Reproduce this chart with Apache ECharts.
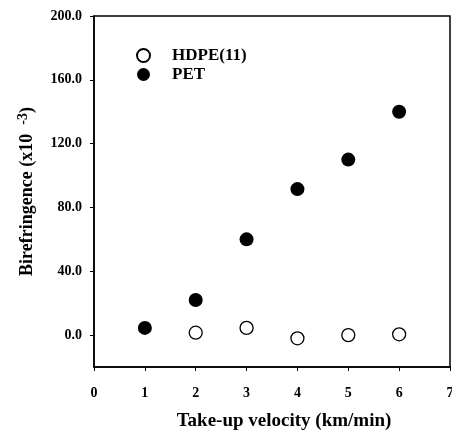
<!DOCTYPE html>
<html>
<head>
<meta charset="utf-8">
<script src="https://cdn.jsdelivr.net/npm/echarts@6/dist/echarts.min.js"></script>
<style>
    html, body { margin: 0; padding: 0; background: #fff; }
    #chart { width: 452px; height: 431px; }
</style>
</head>
<body>
<div id="chart"></div>
<script>
    // data
    var velocities = [1, 2, 3, 4, 5, 6];
    var petValues = [4.5, 22, 60, 91.5, 110, 140];
    var hdpeVelocities = [2, 3, 4, 5, 6];
    var hdpeValues = [1.5, 4.5, -2, 0, 0.5];
    var yTicks = [0, 40, 80, 120, 160, 200];
    var xTicks = [0, 1, 2, 3, 4, 5, 6, 7];

    var serif = '"Liberation Serif", "DejaVu Serif", serif';

    function pairs(xs, ys) {
        return xs.map(function (x, i) { return [x, ys[i]]; });
    }

    var chart = echarts.init(document.getElementById('chart'));
    chart.setOption({
        animation: false,
        backgroundColor: '#fff',
        grid: {
            left: 94,
            right: 2,
            top: 16,
            bottom: 64,
            outerBoundsMode: 'none',
            containLabel: false,
            show: true,
            borderColor: '#000',
            borderWidth: 1.5
        },
        legend: {
            orient: 'vertical',
            left: 131,
            top: 42,
            itemWidth: 13,
            itemHeight: 13,
            itemGap: 2,
            textStyle: {
                fontFamily: serif,
                fontWeight: 'bold',
                fontSize: 17,
                color: '#000',
                padding: [0, 0, 0, 17]
            },
            data: ['HDPE(11)', 'PET']
        },
        xAxis: {
            type: 'value',
            min: 0,
            max: 7,
            interval: 1,
            name: 'Take-up velocity (km/min)',
            nameLocation: 'middle',
            nameGap: 45,
            nameTextStyle: {
                fontFamily: serif,
                fontWeight: 'bold',
                fontSize: 19,
                color: '#000',
                padding: [0, 0, 0, 24]
            },
            axisLine: { onZero: false, lineStyle: { color: '#000', width: 1.5 } },
            axisTick: { show: true, length: 4, inside: false, lineStyle: { color: '#000' } },
            axisLabel: {
                margin: 19,
                fontFamily: serif,
                fontWeight: 'bold',
                fontSize: 14,
                color: '#000',
                customValues: xTicks
            },
            splitLine: { show: false }
        },
        yAxis: {
            type: 'value',
            min: -20,
            max: 200,
            name: '{b|Birefringence (x10  }{s|-3}{b|)}',
            nameLocation: 'middle',
            nameGap: 56,
            nameRotate: 90,
            nameTextStyle: {
                rich: {
                    b: { fontFamily: serif, fontWeight: 'bold', fontSize: 18, color: '#000' },
                    s: { fontFamily: serif, fontWeight: 'bold', fontSize: 14, color: '#000', verticalAlign: 'top', padding: [0, 0, 8, 0] }
                }
            },
            axisLine: { onZero: false, lineStyle: { color: '#000', width: 1.5 } },
            axisTick: { show: true, length: 4, lineStyle: { color: '#000' }, customValues: yTicks },
            axisLabel: {
                margin: 12,
                fontFamily: serif,
                fontWeight: 'bold',
                fontSize: 14,
                color: '#000',
                customValues: yTicks,
                formatter: function (v) { return v.toFixed(1); }
            },
            splitLine: { show: false }
        },
        series: [{
            name: 'HDPE(11)',
            type: 'scatter',
            symbol: 'circle',
            symbolSize: 13,
            itemStyle: { color: '#fff', borderColor: '#000', borderWidth: 1.3, opacity: 1 },
            data: pairs(hdpeVelocities, hdpeValues)
        }, {
            name: 'PET',
            type: 'scatter',
            symbol: 'circle',
            symbolSize: 14,
            itemStyle: { color: '#000', opacity: 1 },
            data: pairs(velocities, petValues)
        }]
    });
</script>
</body>
</html>
